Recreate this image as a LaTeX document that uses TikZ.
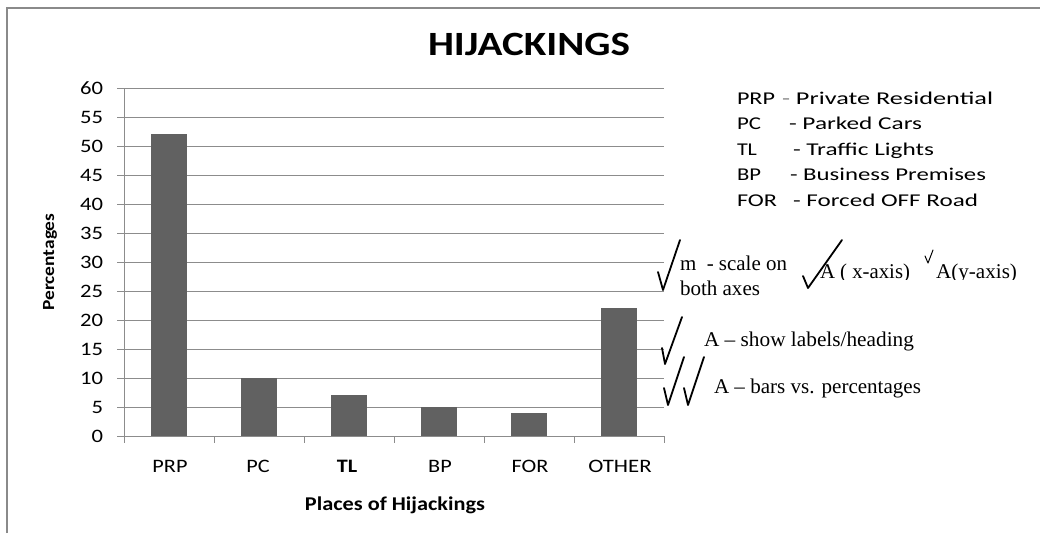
\documentclass[tikz,border=0pt]{standalone}
\usepackage{fontspec}
\usepackage{graphicx}
\newfontfamily\calfont{Carlito}
\newfontfamily\romfont{Liberation Serif}
% squeeze or stretch a text to a given width, keeping its height
\newcommand\wfit[2]{\resizebox{#1pt}{\height}{#2}}
\newcommand\xs[2]{\scalebox{#1}[1]{#2}}
\definecolor{gridgray}{HTML}{8C8C8C}
\definecolor{bargray}{HTML}{616161}
\definecolor{framegray}{HTML}{8A8A8A}
\begin{document}
\begin{tikzpicture}[x=1pt,y=-1pt,
  txt/.style={inner sep=0pt,outer sep=0pt},
  gridline/.style={draw=gridgray,line width=1pt},
  barbox/.style={fill=bargray,draw=none},
  tickfont/.style={font=\fontsize{19}{22}\selectfont\calfont},
  legfont/.style={font=\fontsize{18}{22}\selectfont\calfont},
  notefont/.style={font=\fontsize{21}{24}\selectfont\romfont},
  checkmark/.style={line width=1.8pt,line cap=round,line join=round}]
\useasboundingbox (0,0) rectangle (1040,533);

% outer frame (open to the right and bottom)
\draw[draw=framegray,line width=2pt] (7,533) -- (7,8) -- (1040,8);

% title
\node[txt,anchor=base west] (title) at (428,55)
  {\fontsize{34}{40}\selectfont\calfont\bfseries\wfit{202}{HIJACKINGS}};

% horizontal grid and value labels
\foreach \v in {0,5,...,60}{
  \draw[gridline] (117,{436-5.8*\v}) -- (664,{436-5.8*\v});
  \node[txt,tickfont,anchor=east] (yl\v) at (103,{436-5.8*\v}) {\xs{1.19}{\v}};
}
% value axis and category ticks
\draw[gridline] (124,88) -- (124,443);
\foreach \k in {0,...,6}{
  \draw[gridline] ({124+90*\k},436) -- ({124+90*\k},443);
}

% bars
\foreach \k/\v in {0/52,1/10,2/7,3/5,4/4,5/22}{
  \fill[barbox] ({151+90*\k},436) rectangle ({187+90*\k},{436-5.8*\v});
}

% category labels
\node[txt,tickfont,anchor=base] (cPRP) at (170,472) {\xs{1.17}{PRP}};
\node[txt,tickfont,anchor=base] (cPC) at (258,472) {\xs{1.17}{PC}};
\node[txt,tickfont,anchor=base] (cTL) at (347,472) {\xs{1.17}{\bfseries TL}};
\node[txt,tickfont,anchor=base] (cBP) at (440,472) {\xs{1.17}{BP}};
\node[txt,tickfont,anchor=base] (cFOR) at (530,472) {\xs{1.17}{FOR}};
\node[txt,tickfont,anchor=base] (cOTHER) at (620,472) {\xs{1.2}{OTHER}};

% axis titles
\node[txt,rotate=90] (ytitle) at (50,262)
  {\fontsize{17}{20}\selectfont\calfont\bfseries\wfit{97}{Percentages}};
\node[txt,anchor=base] (xtitle) at (395,510)
  {\fontsize{19.5}{22}\selectfont\calfont\bfseries\wfit{180}{Places of Hijackings}};

% key to the abbreviations
\node[txt,legfont,anchor=base west] (kPRP) at (737,104) {\wfit{38}{PRP}};
\node[txt,legfont,anchor=base west] (dPRP) at (782,104) {\wfit{211}{{\color{gray}-} Private Residential}};
\node[txt,legfont,anchor=base west] (kPC) at (737,129) {\wfit{24}{PC}};
\node[txt,legfont,anchor=base west] (dPC) at (789,129) {\wfit{133}{- Parked Cars}};
\node[txt,legfont,anchor=base west] (kTL) at (737,155) {\wfit{20}{TL}};
\node[txt,legfont,anchor=base west] (dTL) at (793,155) {\wfit{141}{- Traffic Lights}};
\node[txt,legfont,anchor=base west] (kBP) at (737,180) {\wfit{24}{BP}};
\node[txt,legfont,anchor=base west] (dBP) at (790,180) {\wfit{196}{- Business Premises}};
\node[txt,legfont,anchor=base west] (kFOR) at (737,206) {\wfit{40}{FOR}};
\node[txt,legfont,anchor=base west] (dFOR) at (793,206) {\wfit{185}{- Forced OFF Road}};

% marking notes
\node[txt,notefont,anchor=base west] (nScale) at (680,270) {\wfit{107}{m\ \ - scale on}};
\node[txt,notefont,anchor=base west] (nAxes) at (680,295) {\wfit{80}{both axes}};
\begin{scope}
  \clip (795,225) rectangle (1040,279.5);
  \node[txt,notefont,anchor=base west] (nX) at (820,278) {\wfit{90}{A ( x-axis)}};
  \node[txt,notefont,anchor=base west] (nY) at (936,278) {\wfit{81}{A(y-axis)}};
\end{scope}
\node[txt,notefont,anchor=base west] (nLab) at (704,346) {\wfit{210}{A – show labels/heading}};
\node[txt,notefont,anchor=base west] (nBar) at (714,393) {\wfit{207}{A – bars vs. percentages}};

% ticks
\draw[checkmark] (658,272) -- (663,290) -- (680,240);
\draw[checkmark] (803,276) -- (808,288) -- (842,240);
\draw[checkmark,line width=1pt] (925,256) -- (928,263) -- (933,250);
\draw[checkmark] (662,348) -- (665,364) -- (682,317);
\draw[checkmark] (664,388) -- (668,405) -- (684,357);
\draw[checkmark] (684,388) -- (688,405) -- (704,357);
\end{tikzpicture}
\end{document}
